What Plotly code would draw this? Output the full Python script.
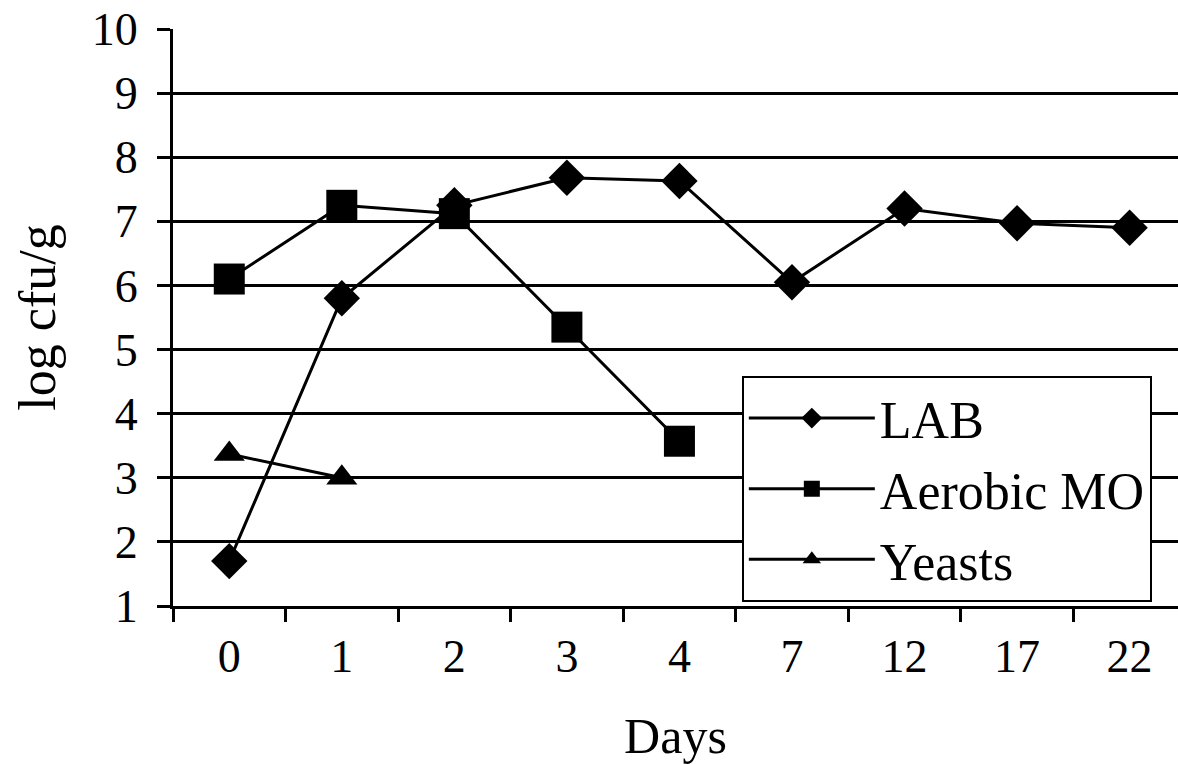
import plotly.graph_objects as go

days = ["0", "1", "2", "3", "4", "7", "12", "17", "22"]
lab = [1.7, 5.8, 7.25, 7.68, 7.63, 6.05, 7.2, 6.97, 6.9]
aerobic_days = ["0", "1", "2", "3", "4"]
aerobic = [6.1, 7.25, 7.12, 5.35, 3.57]
yeast_days = ["0", "1"]
yeasts = [3.37, 3.0]
y_ticks = [1, 2, 3, 4, 5, 6, 7, 8, 9, 10]

FONT = "Liberation Serif, Times New Roman, serif"

fig = go.Figure()
fig.add_trace(go.Scatter(x=days, y=lab, name="LAB", mode="lines+markers",
                         line=dict(color="black", width=3),
                         marker=dict(symbol="diamond", size=28, color="black"),
                         legendgroup="a"))
fig.add_trace(go.Scatter(x=aerobic_days, y=aerobic, name="Aerobic MO", mode="lines+markers",
                         line=dict(color="black", width=3),
                         marker=dict(symbol="square", size=31, color="black"),
                         legendgroup="b"))
fig.add_trace(go.Scatter(x=yeast_days, y=yeasts, name="Yeasts", mode="lines+markers",
                         line=dict(color="black", width=3),
                         marker=dict(symbol="triangle-up", size=27, color="black"),
                         legendgroup="c"))

fig.update_layout(
    template="none",
    width=1178, height=764,
    margin=dict(l=173, r=0, t=29, b=158, autoexpand=False),
    paper_bgcolor="white", plot_bgcolor="white",
    font=dict(family=FONT, size=46, color="black"),
    showlegend=True,
    legend=dict(x=0.566, y=0.399, xanchor="left", yanchor="top",
                bordercolor="black", borderwidth=2, bgcolor="white",
                font=dict(family=FONT, size=52, color="black"),
                itemwidth=126, tracegroupgap=0, traceorder="normal"),
    xaxis=dict(type="category", categoryorder="array", categoryarray=days,
               range=[-0.5, 8.43], automargin=False,
               showline=True, linecolor="black", linewidth=3,
               ticks="outside", ticklen=13, tickwidth=3, tickcolor="black",
               tickson="boundaries", showgrid=False, zeroline=False,
               ticklabelstandoff=8,
               tickfont=dict(family=FONT, size=46, color="black"),
               title=dict(text="Days", font=dict(family=FONT, size=50, color="black"), standoff=37)),
    yaxis=dict(range=[1, 10], tickvals=y_ticks, automargin=False,
               showline=True, linecolor="black", linewidth=3,
               ticks="outside", ticklen=13, tickwidth=3, tickcolor="black",
               showgrid=True, gridcolor="black", gridwidth=3, zeroline=False,
               ticklabelstandoff=10,
               tickfont=dict(family=FONT, size=46, color="black"),
               title=dict(text="log cfu/g", font=dict(family=FONT, size=52, color="black"), standoff=20)),
)

fig.write_html("out.html",
               config={"displayModeBar": False},
               post_script="document.body.style.margin='0px';document.body.style.overflow='hidden';")
